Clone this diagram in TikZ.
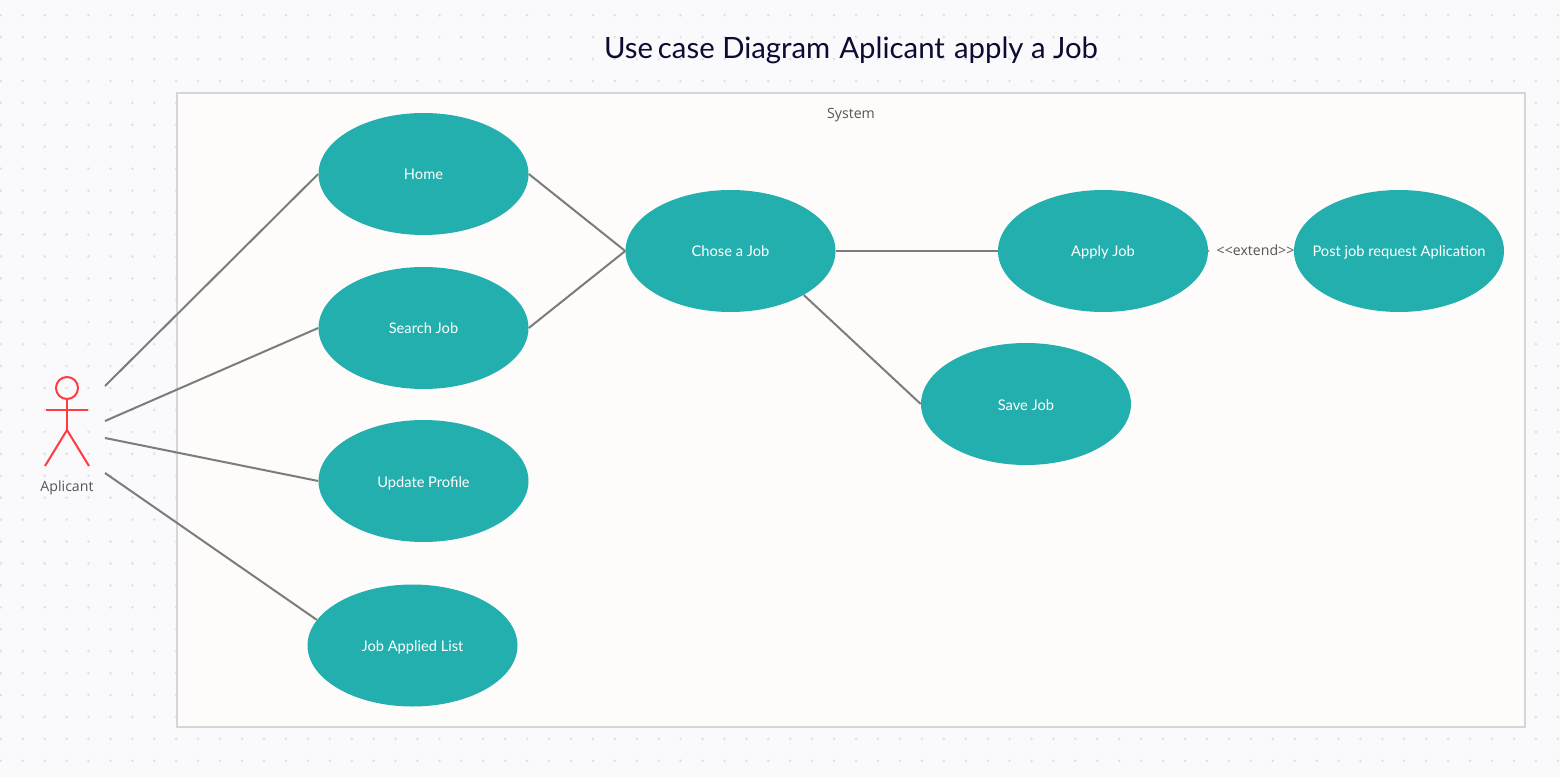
\documentclass[tikz,border=0pt]{standalone}
\usepackage{xcolor}
\usepackage{fontspec}
\setmainfont{Lato}
\newfontfamily\labelfont{Open Sans}
\usetikzlibrary{shapes.geometric}

\definecolor{pagebg}{HTML}{FAFAFD}
\definecolor{griddot}{HTML}{E0E1E3}
\definecolor{boxbg}{HTML}{FDFCFB}
\definecolor{boxline}{HTML}{D5D6DA}
\definecolor{usecasebg}{HTML}{24AFAF}
\definecolor{actorred}{HTML}{FF3B3F}
\definecolor{linkgray}{HTML}{7C7C7C}
\definecolor{labelgray}{HTML}{555555}
\definecolor{titleink}{HTML}{0C0C33}

\tikzset{
    usecase/.style={ellipse, fill=usecasebg, text=white, inner sep=0pt, minimum width=157.5pt, minimum height=91.5pt, text height=10pt, text depth=1pt, font=\fontsize{11pt}{13pt}\selectfont},
    link/.style={linkgray, line width=1.5pt},
    actorline/.style={actorred, line width=1.5pt},
    greylabel/.style={text=labelgray, inner sep=0pt, font=\labelfont\fontsize{10.6pt}{12pt}\selectfont}
}

\begin{document}
\begin{tikzpicture}[x=0.75pt, y=-0.75pt]
    \useasboundingbox (0,0) rectangle (1560,777);
    \fill[pagebg] (0,0) rectangle (1560,777);
    \foreach \col in {0,...,71} {
        \foreach \row in {0,...,34} {
            \fill[griddot] ({0.8+21.93*\col},{15.2+21.93*\row}) circle (1.1pt);
        }
    }
    \draw[boxline, fill=boxbg, line width=1.5pt] (177,93) rectangle (1525,727);

    \node[text=titleink, inner sep=0pt, font=\fontsize{22pt}{26pt}\selectfont] (title) at (851,50) {Use\hspace{-2pt} case Diagram\hspace{1.2pt} Aplicant\hspace{1.2pt} apply a Job};
    \node[greylabel] (system) at (851,115) {System};

    \node[usecase] (home) at (423.5,174) {Home};
    \node[usecase] (search) at (423.5,328) {Search Job};
    \node[usecase] (update) at (423.5,481) {Update Profile};
    \node[usecase] (applied) at (412.5,645.5) {Job Applied List};
    \node[usecase] (chose) at (730.5,251) {Chose a Job};
    \node[usecase] (apply) at (1103,251) {Apply Job};
    \node[usecase] (post) at (1399,251) {\makebox[0pt]{Post job request Aplication}};
    \node[usecase] (save) at (1026,404) {Save Job};

    \node[circle, draw=actorred, line width=1.5pt, inner sep=0pt, minimum size=16.5pt] (head) at (67,388) {};
    \coordinate (arml) at (46,410);
    \coordinate (armr) at (88,410);
    \coordinate (hip) at (67,430);
    \coordinate (footl) at (45,466);
    \coordinate (footr) at (89,466);
    \draw[actorline] (head.south) -- (hip);
    \draw[actorline] (arml) -- (armr);
    \draw[actorline] (footl) -- (hip) -- (footr);
    \node[greylabel] (applicant) at (67,487.5) {Aplicant};
    \node[greylabel] (extend) at (1255.5,250) {<{}<extend>{}>};

    \coordinate (fromhome) at (105,386);
    \coordinate (fromsearch) at (105,421);
    \coordinate (fromupdate) at (105,438);
    \coordinate (fromapplied) at (105,473);

    \draw[link] (fromhome) -- (home.west);
    \draw[link] (fromsearch) -- (search.west);
    \draw[link] (fromupdate) -- (update.west);
    \draw[link] (fromapplied) -- (applied.165);
    \draw[link] (home.east) -- (chose.west);
    \draw[link] (search.east) -- (chose.west);
    \draw[link] (chose.east) -- (apply.west);
    \draw[link] (chose.329) -- (save.west);
    \draw[link, shorten >=5.5pt] (apply.east) -- (extend.west);
\end{tikzpicture}
\end{document}
